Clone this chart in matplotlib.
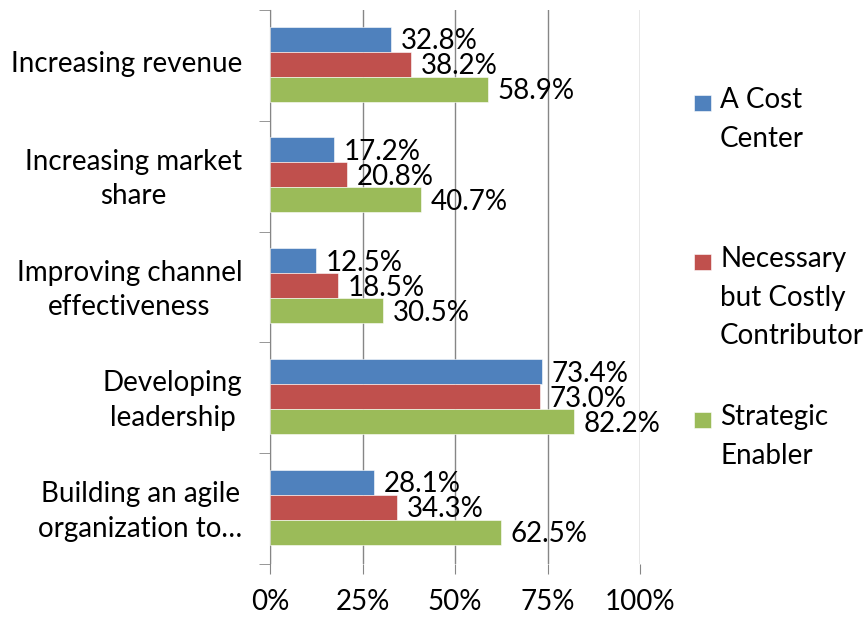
import matplotlib
matplotlib.use("Agg")
import numpy as np
from matplotlib import pyplot as plt
from matplotlib.patches import Rectangle
from matplotlib.transforms import ScaledTranslation

categories = [
    "Increasing revenue",
    "Increasing market\nshare",
    "Improving channel\neffectiveness",
    "Developing\nleadership",
    "Building an agile\norganization to\u2026",
]
series_names = ["A Cost\nCenter", "Necessary\nbut Costly\nContributor", "Strategic\nEnabler"]
cost_center = [32.8, 17.2, 12.5, 73.4, 28.1]
necessary = [38.2, 20.8, 18.5, 73.0, 34.3]
strategic = [58.9, 40.7, 30.5, 82.2, 62.5]
x_ticks = [0, 25, 50, 75, 100]
x_tick_labels = ["0%", "25%", "50%", "75%", "100%"]

colors = ["#4F81BD", "#C0504D", "#9BBB59"]
grey = "#868686"

plt.rcParams["font.family"] = ["Lato", "DejaVu Sans"]
fs = 20

fig = plt.figure(figsize=(8.63, 6.18), dpi=100)
ax = fig.add_axes([270 / 863, 1 - 564 / 618, 370 / 863, 554 / 618])

y = np.arange(len(categories))
h = 0.226
for i, vals in enumerate([cost_center, necessary, strategic]):
    pos = y + (i - 1) * h - 0.012
    ax.barh(pos, vals, height=h, color=colors[i], edgecolor="white", linewidth=0.4, zorder=3)
    for p, v in zip(pos, vals):
        ax.annotate(f"{v:.1f}%", (v, p), xytext=(7, -1.5), textcoords="offset points",
                    ha="left", va="center", fontsize=fs, zorder=4)

ax.set_xlim(0, 100)
ax.set_ylim(len(categories) - 0.5, -0.5)
ax.set_xticks(x_ticks)
ax.set_xticklabels(x_tick_labels, fontsize=fs)
ax.tick_params(axis="x", length=7, color=grey, pad=11)
ax.grid(axis="x", color=grey, linewidth=1, zorder=0)

ax.set_yticks(y)
ax.set_yticklabels(categories, fontsize=fs, multialignment="center", linespacing=1.4)
ax.tick_params(axis="y", length=0, pad=20)
shift = ScaledTranslation(0, 4 / 100, fig.dpi_scale_trans)
for lab in ax.get_yticklabels():
    lab.set_transform(lab.get_transform() + shift)
ax.set_yticks(np.arange(len(categories) + 1) - 0.5, minor=True)
ax.tick_params(axis="y", which="minor", length=8, color=grey)

for s in ["top", "right", "bottom"]:
    ax.spines[s].set_visible(False)
ax.spines["left"].set_color(grey)

# legend drawn by hand so the marker sits on the first text line
legend_y = [103, 262, 420]
for name, c, ly in zip(series_names, colors, legend_y):
    fig.patches.append(Rectangle((694 / 863, 1 - (ly + 8) / 618), 17 / 863, 16 / 618,
                                 transform=fig.transFigure, facecolor=c, edgecolor="white",
                                 linewidth=0.4))
    fig.text(720 / 863, 1 - (ly - 16) / 618, name, fontsize=fs, va="top", ha="left",
             linespacing=1.6)

fig.savefig("out.png", dpi=100)
